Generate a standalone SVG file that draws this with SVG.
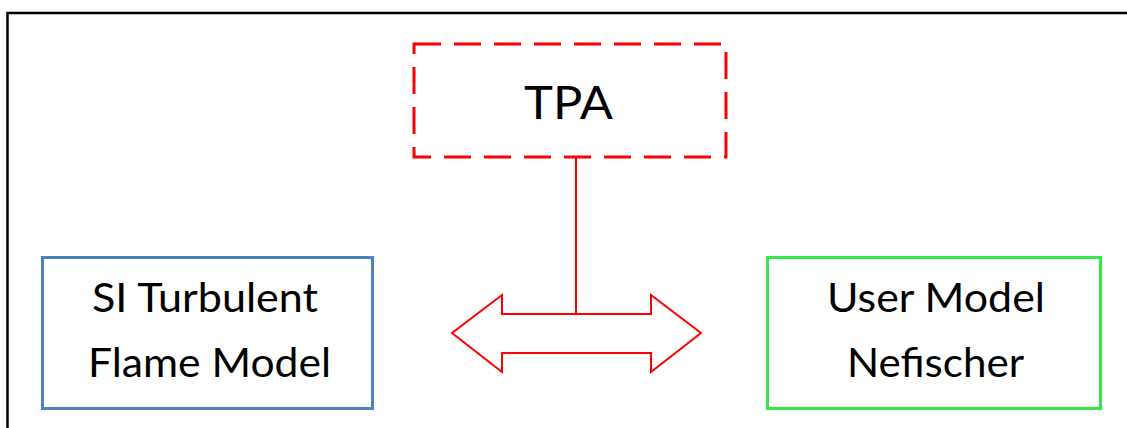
<svg xmlns="http://www.w3.org/2000/svg" width="1127" height="428" viewBox="0 0 1127 428">
  <style>
    .lbl { font-family: Lato, "Open Sans", "Liberation Sans", sans-serif; fill: #000; }
    .body { font-size: 40px; }
    .big { font-size: 47px; }
  </style>
  <rect x="0" y="0" width="1127" height="428" fill="#ffffff"/>
  <path d="M7.5,428 V13 H1127" fill="none" stroke="#000" stroke-width="2.5"/>
  <g id="tpa">
    <rect x="414" y="44" width="312" height="113" fill="none" stroke="#ff0000" stroke-width="3" stroke-dasharray="27 13"/>
    <text class="lbl big" x="524" y="118.5" textLength="89" lengthAdjust="spacingAndGlyphs">TPA</text>
  </g>
  <g id="si-turbulent">
    <rect x="42.5" y="257.5" width="330" height="151" fill="none" stroke="#4f81bd" stroke-width="3"/>
    <text class="lbl body" x="92" y="312" textLength="226" lengthAdjust="spacingAndGlyphs">SI Turbulent</text>
    <text class="lbl body" x="88" y="377" textLength="243" lengthAdjust="spacingAndGlyphs">Flame Model</text>
  </g>
  <g id="user-model">
    <rect x="767.5" y="257.5" width="333" height="151" fill="none" stroke="#33e84a" stroke-width="3"/>
    <text class="lbl body" x="827" y="312" textLength="218" lengthAdjust="spacingAndGlyphs">User Model</text>
    <text class="lbl body" x="847" y="377" textLength="177" lengthAdjust="spacingAndGlyphs">Nefischer</text>
  </g>
  <g id="connectors" fill="none" stroke="#ff0000" stroke-width="2">
    <line x1="576" y1="157" x2="576" y2="314"/>
    <polygon fill="#ffffff" points="452,333 502,295 502,314 651,314 651,295 701,333 651,372 651,353 502,353 502,372"/>
  </g>
</svg>
